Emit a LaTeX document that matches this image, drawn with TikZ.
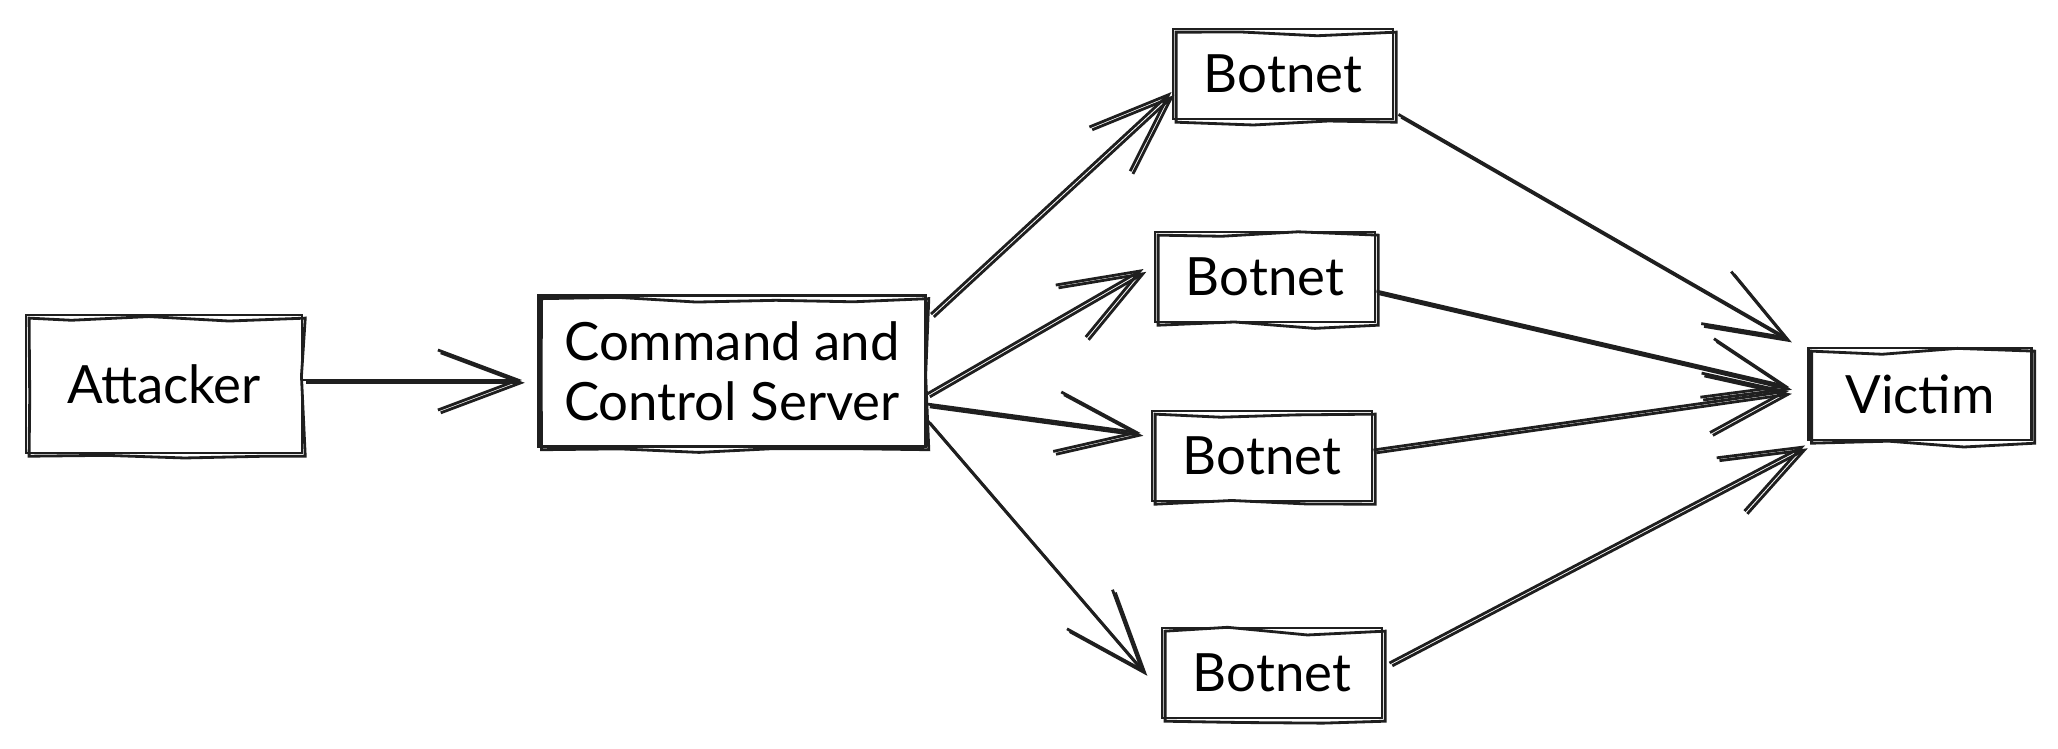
\documentclass[tikz,border=0pt]{standalone}
\usepackage{fontspec}
\setmainfont{Lato}
\usetikzlibrary{arrows.meta,decorations.pathmorphing,calc}

\begin{document}
\pgfmathsetseed{7}
\begin{tikzpicture}[
  x=0.01cm, y=-0.01cm,
  font=\fontsize{15}{17}\selectfont,
  >={Straight Barb[length=8mm,width=6mm]},
  box/.style={draw=black!88, line width=0.8pt, align=center, inner sep=2pt,
              postaction={draw=black!88, decorate, transform canvas={shift={(0.9pt,-0.9pt)}},
                          decoration={random steps, segment length=22pt, amplitude=1.1pt}}},
  srv/.style={box, minimum width=3.87cm, minimum height=1.51cm},
  bot/.style={box, minimum width=2.2cm, minimum height=0.9cm},
  conn/.style={->, line width=0.8pt, black!88,
               postaction={draw, transform canvas={shift={(0.8pt,-0.8pt)}}}},
]
\useasboundingbox (0,0) rectangle (2058,748);

%% ---------- source side ----------
\node[box, minimum width=2.76cm, minimum height=1.38cm] (att) at (164,384) {Attacker};
\node[srv] (cc) at (732,371) {Command and\\ Control Server};

%% ---------- botnets ----------
\node[bot] (b1) at (1283,74)  {Botnet};
\node[bot] (b2) at (1265,277) {Botnet};
\node[bot] (b3) at (1262,456) {Botnet};
\node[bot] (b4) at (1272,673) {Botnet};

%% ---------- target ----------
\node[box, minimum width=2.23cm, minimum height=0.92cm] (vic) at (1920,394) {Victim};

%% ---------- connectors ----------
\draw[conn] ([yshift=0.4mm]att.east) -- ([xshift=-1.5mm,yshift=0.4mm]att.east -| cc.west);

\draw[conn] ([xshift=0.4mm,yshift=-2mm]cc.north east) -- ([yshift=-1.8mm]b1.west);
\draw[conn] ([yshift=-2.3mm]cc.east) -- ([xshift=-1mm,yshift=0.8mm]b2.west);
\draw[conn] ([yshift=-3.3mm]cc.east) -- ([xshift=-1mm,yshift=2.3mm]b3.west);
\draw[conn] ([yshift=-4.9mm]cc.east) -- ([xshift=-1.6mm]b4.west);

\draw[conn] ([xshift=0.4mm,yshift=0.6mm]b1.south east) -- ([xshift=-1.8mm,yshift=0.7mm]vic.north west);
\draw[conn] ([yshift=-1.4mm]b2.east) -- ([xshift=-1.8mm,yshift=0.7mm]vic.west);
\draw[conn] ([yshift=0.6mm]b3.east) -- ([xshift=-1.8mm,yshift=0.3mm]vic.west);
\draw[conn] ([xshift=0.6mm,yshift=1mm]b4.east) -- ([xshift=-0.2mm,yshift=-0.4mm]vic.south west);

\end{tikzpicture}
\end{document}
